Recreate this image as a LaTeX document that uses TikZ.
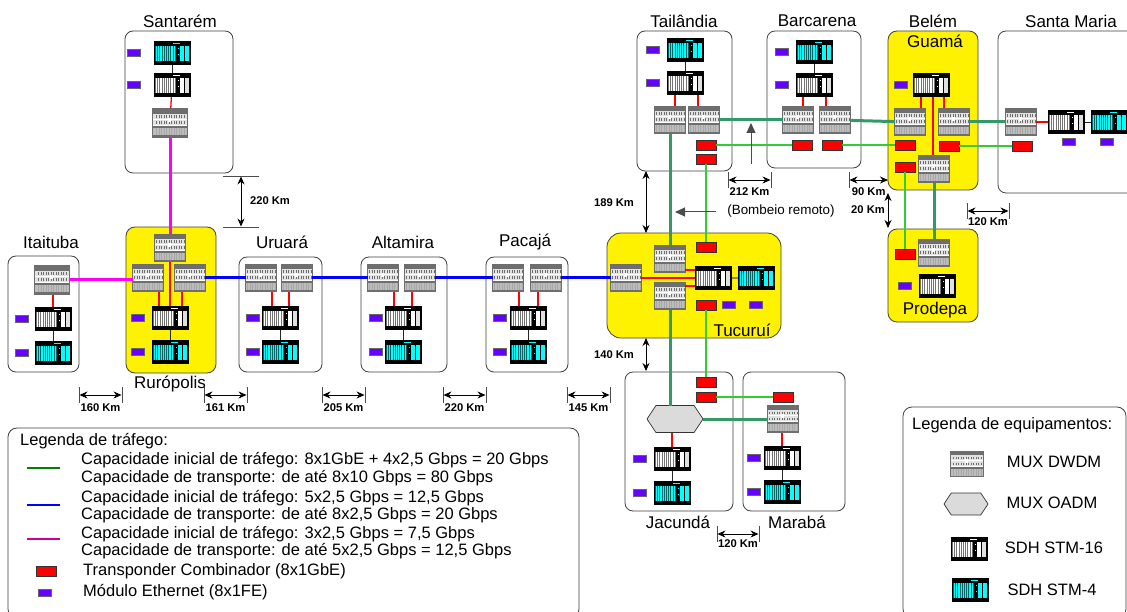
\documentclass[tikz,border=0pt]{standalone}
\usepackage{fontspec}
\setmainfont{Liberation Sans}
\usepackage{xcolor}
\usepackage{tikz}
\usetikzlibrary{arrows.meta,positioning,shapes.symbols}
\definecolor{muxGray}{HTML}{6E6E6E}
\definecolor{muxLight}{HTML}{E2E2E2}
\definecolor{muxPale}{HTML}{BDBDBD}
\definecolor{trunkGreen}{HTML}{339966}
\definecolor{lambdaGreen}{HTML}{33CC33}
\definecolor{ethPurple}{HTML}{6600FF}
\definecolor{legendGreen}{HTML}{008000}
\definecolor{legendPink}{HTML}{CC0099}
\definecolor{pinkTrunk}{HTML}{FF00FF}
\definecolor{stmCyan}{HTML}{00FFFF}
\definecolor{stmTeal}{HTML}{006666}
\newcommand{\muxface}{%
  \begin{scope}[shift={(path picture bounding box.center)}]
    \fill[muxLight] (-20,-9) rectangle (20,2);
    \fill[muxPale] (-20,5) rectangle (20,12);
    \foreach \k in {-14,-11.5,...,14} {
      \fill[muxGray] (\k,-7.5) rectangle +(1.2,2.6);
      \fill[muxGray] (\k,-1.5) rectangle +(1.2,2.6);
      \fill[muxGray!60] (\k,5) rectangle +(.6,7);
    }
    \fill[white] (-20,-3.6) rectangle (20,-2.6);
    \fill[white] (-20,2.2) rectangle (20,3.4);
    \fill[white] (-2,-5) rectangle (1,-1);
  \end{scope}}
\newcommand{\sdhface}[3]{%
  \begin{scope}[shift={(path picture bounding box.center)}]
    \fill[#2] (-17,-7) rectangle (4,8);
    \foreach \k in {-16,-13.8,...,3} {
      \fill[#1] (\k,-7) rectangle +(1.2,15);
    }
    \fill[#1] (8,-7) rectangle (12,8);
    \fill[#3] (12.8,-7) rectangle (16.5,8);
    \fill[#1] (5.5,-5) rectangle +(1.2,1.2);
    \fill[#1] (5.5,1) rectangle +(1.2,1.2);
    \fill[#1] (1,-10) rectangle (8,-9);
  \end{scope}}
\tikzset{
  site/.style={rectangle, rounded corners=8pt, draw=black!75, line width=.8pt, fill=white, inner sep=0pt},
  hub/.style={site, rounded corners=9pt, fill=yellow},
  mux/.style={rectangle, inner sep=0pt, outer sep=0pt, minimum width=30.5pt, minimum height=27.5pt, fill=muxGray, draw=muxGray, line width=1.4pt, path picture={\muxface}},
  bigmux/.style={mux, minimum width=35.5pt, minimum height=29.5pt},
  oadm/.style={signal, signal to=west and east, signal pointer angle=113, inner sep=0pt, outer sep=0pt, minimum width=56pt, minimum height=27pt, draw=black!80, line width=.7pt, fill=black!14},
  sdhB/.style={rectangle, inner sep=0pt, outer sep=0pt, minimum width=37pt, minimum height=24pt, fill=black, path picture={\sdhface{white}{black!55}{white!88!black}}},
  sdhC/.style={sdhB, path picture={\sdhface{stmCyan}{stmTeal}{stmCyan}}},
  eth/.style={rectangle, inner sep=0pt, outer sep=0pt, minimum width=13pt, minimum height=7pt, fill=ethPurple, draw=black!60, line width=.6pt},
  tponder/.style={rectangle, inner sep=0pt, outer sep=0pt, minimum width=20pt, minimum height=10pt, fill=red, draw=black!80, line width=.8pt},
  place/.style={font=\fontsize{17}{20}\selectfont, inner sep=0pt},
  km/.style={font=\fontsize{11.2}{13}\selectfont\bfseries, inner sep=0pt},
  legend/.style={font=\fontsize{16.5}{19}\selectfont, inner sep=0pt, anchor=west},
  tick/.style={rectangle, inner sep=0pt, outer sep=0pt, minimum width=.9pt, minimum height=16pt, fill=black!70},
  htick/.style={rectangle, inner sep=0pt, outer sep=0pt, minimum width=36pt, minimum height=.9pt, fill=black!70},
  pinkline/.style={draw=pinkTrunk, line width=3pt},
  blueline/.style={draw=blue, line width=3pt},
  trunk/.style={draw=trunkGreen, line width=3pt},
  lambda/.style={draw=lambdaGreen, line width=1.3pt},
  redlink/.style={draw=red, line width=1.3pt},
  sdhlink/.style={draw=black!85, line width=.9pt},
  span/.style={{Stealth[length=8pt,width=7pt]}-{Stealth[length=8pt,width=7pt]}, draw=black, line width=.9pt},
  pump/.style={-{Triangle[length=10pt,width=9pt]}, draw=black!70, line width=1pt}
}
\begin{document}
\begin{tikzpicture}[x=1pt,y=-1pt]
  \clip (0,0) rectangle (1127,612);
  \fill[white] (0,0) rectangle (1127,612);

  % sites
  \node[site, minimum width=108pt, minimum height=142pt] (srmBox) at (179,102) {};
  \node[site, minimum width=71pt, minimum height=116pt] (itaBox) at (43.5,314) {};
  \node[hub, minimum width=90pt, minimum height=146pt] (rurBox) at (171,300) {};
  \node[site, minimum width=83pt, minimum height=115pt] (uruBox) at (280.5,314.5) {};
  \node[site, minimum width=86pt, minimum height=115pt] (altBox) at (404,314.5) {};
  \node[site, minimum width=82pt, minimum height=115pt] (pacBox) at (527,314.5) {};
  \node[site, minimum width=95pt, minimum height=140pt] (taiBox) at (684.5,101) {};
  \node[site, minimum width=94pt, minimum height=137pt] (barBox) at (814,99.5) {};
  \node[hub, minimum width=90pt, minimum height=159pt] (guaBox) at (933,110.5) {};
  \node[site, minimum width=150pt, minimum height=162pt] (smaBox) at (1073,112) {};
  \node[hub, minimum width=90pt, minimum height=93pt] (proBox) at (933,275.5) {};
  \node[hub, rounded corners=14pt, minimum width=174pt, minimum height=105pt] (tucBox) at (694,285.5) {};
  \node[site, minimum width=108pt, minimum height=139pt] (jacBox) at (679,441.5) {};
  \node[site, minimum width=102pt, minimum height=139pt] (marBox) at (794,441.5) {};
  \node[site, rounded corners=9pt, minimum width=571pt, minimum height=190pt] (trafBox) at (293.5,523) {};
  \node[site, rounded corners=9pt, minimum width=223pt, minimum height=211pt] (equipBox) at (1014.5,512.5) {};

  % site names
  \node[place] (srmName) at (180,21) {Santarém};
  \node[place] (itaName) at (51,242) {Itaituba};
  \node[place] (rurName) at (170,384) {Rurópolis};
  \node[place] (uruName) at (282,242) {Uruará};
  \node[place] (altName) at (403,242) {Altamira};
  \node[place] (pacName) at (525,242) {Pacajá};
  \node[place] (taiName) at (684,21) {Tailândia};
  \node[place] (barName) at (817,21) {Barcarena};
  \node[place] (belName) at (933,21) {Belém};
  \node[place] (guaName) at (935,41) {Guamá};
  \node[place] (smaName) at (1071,21) {Santa Maria};
  \node[place] (proName) at (935,310) {Prodepa};
  \node[place] (tucName) at (742,330) {Tucuruí};
  \node[place] (jacName) at (678,522) {Jacundá};
  \node[place] (marName) at (797,522) {Marabá};

  % equipment
  \node[sdhC] (srmC) at (172,53) {};
  \node[sdhB, below=8pt of srmC] (srmB) {};
  \node[bigmux] (srmM) at (170,123) {};
  \node[eth, left=13pt of srmC] (srmE) {};
  \node[eth, left=13pt of srmB] (srmF) {};

  \node[sdhB] (itaB) at (53,319) {};
  \node[sdhC, below=10pt of itaB] (itaC) {};
  \node[bigmux] (itaM) at (52,280) {};
  \node[eth, left=6pt of itaB] (itaE) {};
  \node[eth, left=6pt of itaC] (itaF) {};

  \node[mux] (rurT) at (170,248) {};
  \node[mux] (rurL) at (148,278) {};
  \node[mux] (rurR) at (190,278) {};
  \node[sdhB] (rurB) at (170,318) {};
  \node[sdhC, below=10pt of rurB] (rurC) {};
  \node[eth, left=7pt of rurB] (rurE) {};
  \node[eth, left=7pt of rurC] (rurF) {};

  \node[mux] (uruL) at (261,278) {};
  \node[mux] (uruR) at (297,278) {};
  \node[sdhB] (uruB) at (280,318) {};
  \node[sdhC, below=10pt of uruB] (uruC) {};
  \node[eth, left=2pt of uruB] (uruE) {};
  \node[eth, left=2pt of uruC] (uruF) {};

  \node[mux] (altL) at (383,278) {};
  \node[mux] (altR) at (420,278) {};
  \node[sdhB] (altB) at (403,318) {};
  \node[sdhC, below=10pt of altB] (altC) {};
  \node[eth, left=2pt of altB] (altE) {};
  \node[eth, left=2pt of altC] (altF) {};

  \node[mux] (pacL) at (508,278) {};
  \node[mux] (pacR) at (546,278) {};
  \node[sdhB] (pacB) at (528,318) {};
  \node[sdhC, below=10pt of pacB] (pacC) {};
  \node[eth, left=3pt of pacB] (pacE) {};
  \node[eth, left=3pt of pacC] (pacF) {};

  \node[sdhC] (taiC) at (685,50) {};
  \node[sdhB, below=9pt of taiC] (taiB) {};
  \node[mux] (taiL) at (670,120) {};
  \node[mux] (taiR) at (704,120) {};
  \node[eth, left=7pt of taiC] (taiE) {};
  \node[eth, left=7pt of taiB] (taiF) {};
  \node[tponder] (taiP) at (706,145) {};
  \node[tponder] (taiQ) at (706,159) {};

  \node[sdhC] (barC) at (814,52) {};
  \node[sdhB, below=9pt of barC] (barB) {};
  \node[mux] (barL) at (798,120) {};
  \node[mux] (barR) at (835,120) {};
  \node[eth, left=7pt of barC] (barE) {};
  \node[eth, left=7pt of barB] (barF) {};
  \node[tponder] (barP) at (802,145) {};
  \node[tponder] (barQ) at (832,145) {};

  \node[sdhB] (guaB) at (931,85) {};
  \node[eth, left=5pt of guaB] (guaE) {};
  \node[mux] (guaL) at (910,122) {};
  \node[mux] (guaR) at (954,122) {};
  \node[mux] (guaD) at (934,169) {};
  \node[tponder] (guaP) at (905,145) {};
  \node[tponder] (guaQ) at (949,146) {};
  \node[tponder] (guaS) at (905,167) {};

  \node[mux] (smaM) at (1021,122) {};
  \node[sdhB] (smaB) at (1066,122) {};
  \node[sdhC, right=6pt of smaB] (smaC) {};
  \node[eth] (smaE) at (1069,142) {};
  \node[eth] (smaF) at (1107,142) {};
  \node[tponder] (smaP) at (1022,146) {};

  \node[mux] (proM) at (934,253) {};
  \node[tponder] (proP) at (905,254) {};
  \node[sdhB] (proB) at (937,286) {};
  \node[eth] (proE) at (905,286) {};

  \node[mux] (tucW) at (626,278) {};
  \node[mux] (tucT) at (670,259) {};
  \node[mux] (tucD) at (670,296) {};
  \node[sdhB] (tucB) at (713,278) {};
  \node[sdhC, right=6pt of tucB] (tucC) {};
  \node[tponder] (tucP) at (706,247) {};
  \node[tponder] (tucQ) at (706,305) {};
  \node[eth] (tucE) at (729,305) {};
  \node[eth] (tucF) at (756,305) {};

  \node[tponder] (jacP) at (706,382) {};
  \node[tponder] (jacQ) at (706,397) {};
  \node[oadm] (jacH) at (675,419) {};
  \node[sdhB] (jacB) at (672,459) {};
  \node[sdhC, below=10pt of jacB] (jacC) {};
  \node[eth, left=7pt of jacB] (jacE) {};
  \node[eth, left=7pt of jacC] (jacF) {};

  \node[tponder] (marP) at (783,397) {};
  \node[mux] (marM) at (783,419) {};
  \node[sdhB] (marB) at (782,458) {};
  \node[sdhC, below=10pt of marB] (marC) {};
  \node[eth, left=3pt of marB] (marE) {};
  \node[eth, left=3pt of marC] (marF) {};

  % long haul links
  \draw[pinkline] (srmM) -- (rurT);
  \draw[pinkline] (itaM) -- (itaM -| rurL.west);
  \draw[blueline] (rurR) -- (uruL);
  \draw[blueline] (uruR) -- (altL);
  \draw[blueline] (altR) -- (pacL);
  \draw[blueline] (pacR) -- (tucW);
  \draw[trunk] (taiL) -- (tucT);
  \draw[trunk] (taiR) -- (barL);
  \draw[trunk] (barR) -- (guaL);
  \draw[trunk] (guaR) -- (smaM);
  \draw[trunk] (guaD) -- (proM);
  \draw[trunk] (tucD.south) -- (tucD.south |- jacH.north);
  \draw[trunk] (jacH) -- (marM);

  % transponder links
  \draw[lambda] (taiP) -- (barP);
  \draw[lambda] (barQ) -- (guaP);
  \draw[lambda] (guaQ) -- (smaP);
  \draw[lambda] (guaS) -- (proP);
  \draw[lambda] (taiQ) -- (tucP);
  \draw[lambda] (tucQ) -- (jacP);
  \draw[lambda] (jacQ) -- (marP);

  % local links
  \draw[redlink] (srmM) -- (srmB);
  \draw[redlink] (itaM.south -| itaB) -- (itaB);
  \draw[redlink] (rurT) -- (rurB);
  \draw[redlink] ([xshift=11pt]rurL.south) -- ([xshift=-11pt]rurB.north);
  \draw[redlink] ([xshift=-8pt]rurR.south) -- ([xshift=12pt]rurB.north);
  \draw[redlink] ([xshift=11pt]uruL.south) -- ([xshift=-8pt]uruB.north);
  \draw[redlink] ([xshift=-8pt]uruR.south) -- ([xshift=9pt]uruB.north);
  \draw[redlink] ([xshift=11pt]altL.south) -- ([xshift=-9pt]altB.north);
  \draw[redlink] ([xshift=-8pt]altR.south) -- ([xshift=9pt]altB.north);
  \draw[redlink] ([xshift=11pt]pacL.south) -- ([xshift=-9pt]pacB.north);
  \draw[redlink] ([xshift=-8pt]pacR.south) -- ([xshift=10pt]pacB.north);
  \draw[redlink] ([xshift=5pt]taiL.north) -- ([xshift=-10pt]taiB.south);
  \draw[redlink] ([xshift=-6pt]taiR.north) -- ([xshift=13pt]taiB.south);
  \draw[redlink] ([xshift=5pt]barL.north) -- ([xshift=-11pt]barB.south);
  \draw[redlink] ([xshift=-9pt]barR.north) -- ([xshift=12pt]barB.south);
  \draw[redlink] ([xshift=11pt]guaL.north) -- ([xshift=-10pt]guaB.south);
  \draw[redlink] ([xshift=-10pt]guaR.north) -- ([xshift=13pt]guaB.south);
  \draw[redlink] ([xshift=2pt]guaB.south) -- ([xshift=-1pt]guaD.north);
  \draw[redlink] (smaM) -- (smaB);
  \draw[redlink] (tucW) -- (tucB);
  \draw[redlink] ([yshift=-11pt]tucT.east) -- ([yshift=8pt]tucB.west);
  \draw[redlink] ([yshift=10pt]tucD.east) -- ([yshift=-8pt]tucB.west);
  \draw[redlink] (jacH.south -| jacB) -- (jacB);
  \draw[redlink] (marM.south -| marB) -- (marB);
  \draw[sdhlink] (srmC) -- (srmB);
  \draw[sdhlink] (itaB) -- (itaC);
  \draw[sdhlink] (rurB) -- (rurC);
  \draw[sdhlink] (uruB) -- (uruC);
  \draw[sdhlink] (altB) -- (altC);
  \draw[sdhlink] (pacB) -- (pacC);
  \draw[sdhlink] (taiC) -- (taiB);
  \draw[sdhlink] (barC) -- (barB);
  \draw[sdhlink] (smaB) -- (smaC);
  \draw[sdhlink] (jacB) -- (jacC);
  \draw[sdhlink] (marB) -- (marC);
  \draw[draw=yellow!50!black, line width=1.3pt] (tucB) -- (tucC);

  % distances
  \node[tick] (d160a) at (79,395) {};
  \node[tick] (d160b) at (122,395) {};
  \draw[span] (d160a) -- node[km, yshift=-13pt] {160 Km} (d160b);
  \node[tick] (d161a) at (204,395) {};
  \node[tick] (d161b) at (247,395) {};
  \draw[span] (d161a) -- node[km, yshift=-13pt] {161 Km} (d161b);
  \node[tick] (d205a) at (322,395) {};
  \node[tick] (d205b) at (365,395) {};
  \draw[span] (d205a) -- node[km, yshift=-13pt] {205 Km} (d205b);
  \node[tick] (d220a) at (443,395) {};
  \node[tick] (d220b) at (486,395) {};
  \draw[span] (d220a) -- node[km, yshift=-13pt] {220 Km} (d220b);
  \node[tick] (d145a) at (567,395) {};
  \node[tick] (d145b) at (610,395) {};
  \draw[span] (d145a) -- node[km, yshift=-13pt] {145 Km} (d145b);
  \node[tick] (d120a) at (717,534) {};
  \node[tick] (d120b) at (759,534) {};
  \draw[span] (d120a) -- node[km, yshift=-10pt] {120 Km} (d120b);
  \node[tick] (d212a) at (728,180) {};
  \node[tick] (d212b) at (771,180) {};
  \draw[span] (d212a) -- node[km, yshift=-12pt] {212 Km} (d212b);
  \node[tick] (d90a) at (849,180) {};
  \coordinate (d90b) at (888,180);
  \draw[span] (d90a) -- node[km, yshift=-12pt] {90 Km} (d90b);
  \node[tick] (d121a) at (967,211) {};
  \node[tick] (d121b) at (1009,211) {};
  \draw[span] (d121a) -- node[km, yshift=-11pt] {120 Km} (d121b);
  \node[htick] (d222a) at (241,176) {};
  \node[htick] (d222b) at (241,227) {};
  \draw[span] (d222a) -- (d222b);
  \node[km] (k222) at (270,201) {220 Km};
  \coordinate (d189a) at (646,171);
  \coordinate (d189b) at (646,233);
  \draw[span] (d189a) -- (d189b);
  \node[km] (k189) at (614,203) {189 Km};
  \coordinate (d140a) at (646,338);
  \coordinate (d140b) at (646,371);
  \draw[span] (d140a) -- (d140b);
  \node[km] (k140) at (614,355) {140 Km};
  \coordinate (d20a) at (888,193);
  \coordinate (d20b) at (888,228);
  \draw[span] (d20a) -- (d20b);
  \node[km] (k20) at (868,210) {20 Km};

  % remote pumping
  \coordinate (pumpUa) at (751,164);
  \coordinate (pumpUb) at (751,123);
  \draw[pump] (pumpUa) -- (pumpUb);
  \coordinate (pumpLa) at (716,212);
  \coordinate (pumpLb) at (675,212);
  \draw[pump] (pumpLa) -- (pumpLb);
  \node[font=\fontsize{13.4}{15}\selectfont, inner sep=0pt] (pumpText) at (781,211) {(Bombeio remoto)};

  % traffic legend
  \node[legend] (trafTitle) at (20,441) {Legenda de tráfego:};
  \coordinate (gA) at (27,468);
  \coordinate (gB) at (60,468);
  \draw[draw=legendGreen, line width=2.4pt] (gA) -- (gB);
  \node[legend] (gI) at (81,460) {Capacidade inicial de tráfego: 8x1GbE + 4x2,5 Gbps = 20 Gbps};
  \node[legend] (gT) at (81,478) {Capacidade de transporte: de até 8x10 Gbps = 80 Gbps};
  \coordinate (bA) at (27,505);
  \coordinate (bB) at (60,505);
  \draw[draw=blue, line width=2.4pt] (bA) -- (bB);
  \node[legend] (bI) at (81,498) {Capacidade inicial de tráfego: 5x2,5 Gbps = 12,5 Gbps};
  \node[legend] (bT) at (81,515) {Capacidade de transporte: de até 8x2,5 Gbps = 20 Gbps};
  \coordinate (pA) at (27,539);
  \coordinate (pB) at (60,539);
  \draw[draw=legendPink, line width=2.4pt] (pA) -- (pB);
  \node[legend] (pI) at (81,534) {Capacidade inicial de tráfego: 3x2,5 Gbps = 7,5 Gbps};
  \node[legend] (pT) at (81,551) {Capacidade de transporte: de até 5x2,5 Gbps = 12,5 Gbps};
  \node[tponder] (keyP) at (46,571) {};
  \node[legend] (keyPt) at (83,571) {Transponder Combinador (8x1GbE)};
  \node[eth] (keyE) at (45,593) {};
  \node[legend] (keyEt) at (83,592) {Módulo Ethernet (8x1FE)};

  % equipment legend
  \node[legend] (equipTitle) at (912,425) {Legenda de equipamentos:};
  \node[mux, minimum width=33.5pt, minimum height=25.5pt] (keyM) at (967,464) {};
  \node[legend, anchor=center] (keyMt) at (1054,462) {MUX DWDM};
  \node[oadm, minimum width=44pt, minimum height=22pt] (keyH) at (966,504) {};
  \node[legend, anchor=center] (keyHt) at (1052,503) {MUX OADM};
  \node[sdhB] (keyB) at (969,549) {};
  \node[legend, anchor=center] (keyBt) at (1054,548) {SDH STM-16};
  \node[sdhC] (keyC) at (970,590) {};
  \node[legend, anchor=center] (keyCt) at (1052,590) {SDH STM-4};
\end{tikzpicture}
\end{document}
